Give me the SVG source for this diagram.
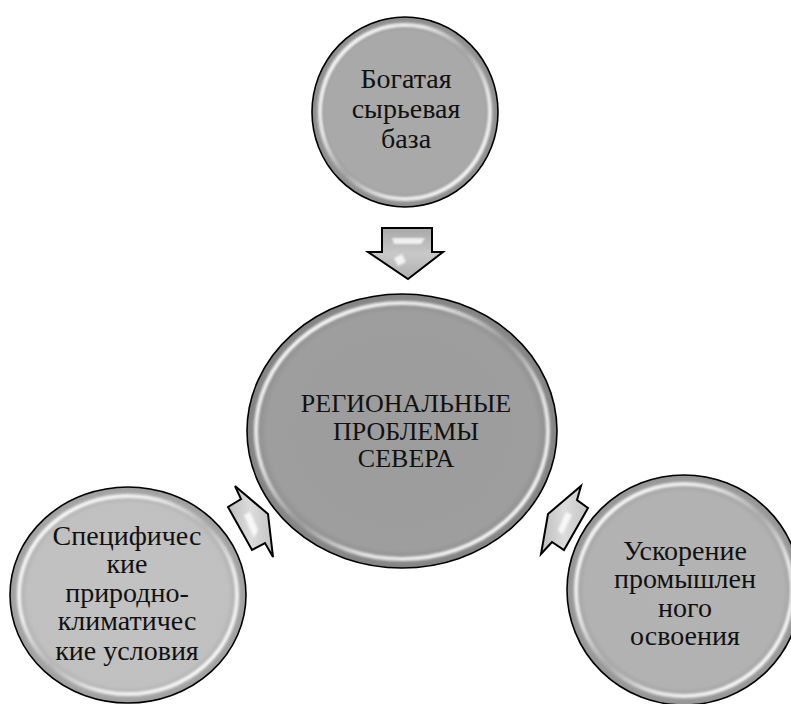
<svg xmlns="http://www.w3.org/2000/svg" width="791" height="704" viewBox="0 0 791 704">
<defs>
<radialGradient id="gTop" cx="0.5" cy="0.5" r="0.5"><stop offset="0" stop-color="#a9a9a9"/><stop offset="0.85" stop-color="#a9a9a9"/><stop offset="1" stop-color="#8a8a8a"/></radialGradient>
<radialGradient id="gCenter" cx="0.5" cy="0.5" r="0.5"><stop offset="0" stop-color="#9c9c9c"/><stop offset="0.87" stop-color="#9e9e9e"/><stop offset="1" stop-color="#818181"/></radialGradient>
<radialGradient id="gLeft" cx="0.5" cy="0.5" r="0.5"><stop offset="0" stop-color="#c2c2c2"/><stop offset="0.85" stop-color="#c0c0c0"/><stop offset="1" stop-color="#9c9c9c"/></radialGradient>
<radialGradient id="gRight" cx="0.5" cy="0.5" r="0.5"><stop offset="0" stop-color="#b3b3b3"/><stop offset="0.85" stop-color="#b2b2b2"/><stop offset="1" stop-color="#929292"/></radialGradient>
<linearGradient id="rim" x1="0" y1="0" x2="1" y2="1">
<stop offset="0" stop-color="#fff" stop-opacity="1"/><stop offset="0.32" stop-color="#fff" stop-opacity="0.75"/><stop offset="0.5" stop-color="#fff" stop-opacity="0.1"/><stop offset="0.68" stop-color="#fff" stop-opacity="0.75"/><stop offset="1" stop-color="#fff" stop-opacity="1"/>
</linearGradient>
<linearGradient id="gArrow" x1="0" y1="0" x2="0" y2="1">
<stop offset="0" stop-color="#a8a8a8"/><stop offset="0.5" stop-color="#c8c8c8"/><stop offset="1" stop-color="#b0b0b0"/>
</linearGradient>
<linearGradient id="gArrowSide" x1="0" y1="0" x2="1" y2="0">
<stop offset="0" stop-color="#bdbdbd"/><stop offset="0.5" stop-color="#dcdcdc"/><stop offset="1" stop-color="#c4c4c4"/>
</linearGradient>
<filter id="soft" x="-10%" y="-10%" width="120%" height="120%"><feGaussianBlur stdDeviation="0.9"/></filter>
<style>
.shape{stroke:#000;stroke-width:1.6}
.gloss{fill:none;stroke:url(#rim);stroke-width:4;filter:url(#soft)}
.lbl{font-family:"Liberation Serif","Times New Roman",serif;fill:#111;text-anchor:middle}
.arrow{stroke:#000;stroke-width:2;stroke-linejoin:miter}
.hl{fill:#fff;opacity:0.8;filter:url(#soft)}
</style>
</defs>
<rect width="791" height="704" fill="#fff"/>

<g id="connectors">
<g id="arrow-top">
<polygon class="arrow" fill="url(#gArrow)" points="382,228 432,228 432,252 443,252 408,279 368,252 382,252"/>
<polygon class="hl" points="392,238 425,238 421,244 394,244"/>
<polygon class="hl" points="394,258 402,254 406,262 398,266"/>
</g>
<g id="arrow-left">
<polygon class="arrow" fill="url(#gArrowSide)" points="235,486 241,499 228,507 252,550 265,543 273,557 268,514"/>
<polygon class="hl" points="244,515 250,512 258,530 254,538"/>
</g>
<g id="arrow-right">
<polygon class="arrow" fill="url(#gArrowSide)" points="581,486 577,500 588,508 564,550 552,542 541,554 548,514"/>
<polygon class="hl" points="566,512 572,515 562,535 558,530"/>
</g>
</g>

<g id="node-top">
<ellipse class="shape" cx="405" cy="112" rx="93" ry="95" fill="url(#gTop)"/>
<ellipse class="gloss" cx="405" cy="112" rx="85" ry="87"/>
<text class="lbl" font-size="28"><tspan x="406" y="88">Богатая</tspan><tspan x="406" y="118">сырьевая</tspan><tspan x="406" y="148">база</tspan></text>
</g>

<g id="node-center">
<ellipse class="shape" cx="402" cy="431" rx="155" ry="137" fill="url(#gCenter)"/>
<ellipse class="gloss" cx="402" cy="431" rx="146" ry="128"/>
<text class="lbl" font-size="26"><tspan x="406" y="412">РЕГИОНАЛЬНЫЕ</tspan><tspan x="406" y="440">ПРОБЛЕМЫ</tspan><tspan x="406" y="467">СЕВЕРА</tspan></text>
</g>

<g id="node-left">
<ellipse class="shape" cx="128" cy="595" rx="118" ry="108" fill="url(#gLeft)"/>
<ellipse class="gloss" cx="128" cy="595" rx="109" ry="99"/>
<text class="lbl" font-size="28"><tspan x="127" y="545">Специфичес</tspan><tspan x="127" y="573">кие</tspan><tspan x="127" y="602">природно-</tspan><tspan x="127" y="630">климатичес</tspan><tspan x="127" y="660">кие условия</tspan></text>
</g>

<g id="node-right">
<ellipse class="shape" cx="684" cy="590" rx="117" ry="115" fill="url(#gRight)"/>
<ellipse class="gloss" cx="684" cy="590" rx="108" ry="106"/>
<text class="lbl" font-size="28"><tspan x="685" y="560">Ускорение</tspan><tspan x="685" y="588">промышлен</tspan><tspan x="685" y="617">ного</tspan><tspan x="685" y="645">освоения</tspan></text>
</g>
</svg>
